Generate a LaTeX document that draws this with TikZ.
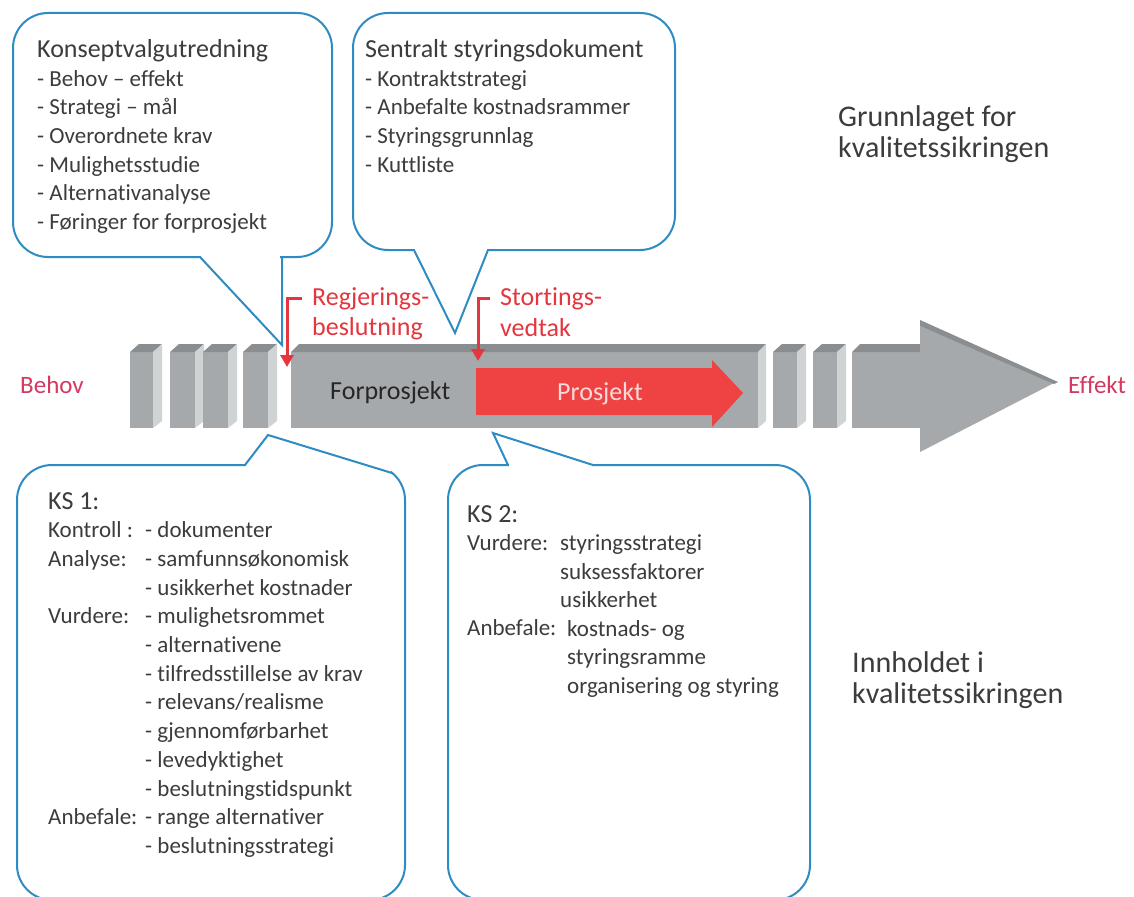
\documentclass[tikz,border=0pt]{standalone}
\usepackage{fontspec}
\setmainfont{Carlito}[Ligatures={TeX,NoCommon}]
\usetikzlibrary{arrows.meta}
\definecolor{bubbleline}{HTML}{2F8CC2}
\definecolor{textgray}{HTML}{3C3C3C}
\definecolor{barfront}{HTML}{A6A9AB}
\definecolor{bartop}{HTML}{8B8E90}
\definecolor{barside}{HTML}{D0D3D4}
\definecolor{projred}{HTML}{EF4242}
\definecolor{decred}{HTML}{E4363E}
\definecolor{endred}{HTML}{D5395F}
\definecolor{projtext}{HTML}{F9D9D9}
\begin{document}
\begin{tikzpicture}[x=1pt,y=-1pt,
  bubble/.style={draw=bubbleline,line width=2pt,rounded corners=35pt},
  tail/.style={draw=bubbleline,line width=2pt,line join=miter},
  heading/.style={anchor=base west,inner sep=0pt,text=textgray,font=\fontsize{26}{30}\selectfont},
  item/.style={anchor=base west,inner sep=0pt,text=textgray,font=\fontsize{23}{28}\selectfont},
  sidetext/.style={anchor=base west,inner sep=0pt,text=textgray,font=\fontsize{30}{31}\selectfont},
  decision/.style={anchor=base west,inner sep=0pt,text=decred,font=\fontsize{26}{30}\selectfont},
  decarrow/.style={draw=decred,line width=3pt,line join=miter,-{Triangle[length=12pt,width=13pt]}},
  endlabel/.style={anchor=base west,inner sep=0pt,text=endred,font=\fontsize{25}{30}\selectfont}]
\useasboundingbox[fill=white] (0,0) rectangle (1134,896);

% speech bubbles
\draw[bubble] (13,13) rectangle (332,257);
\fill[white] (201,254) rectangle (280,260);
\draw[tail] (200,257) -- (282,345) -- (282,257);
\draw[bubble] (353,13) rectangle (675,250);
\fill[white] (415,247) rectangle (487,253);
\draw[tail] (414,250) -- (455,333) -- (488,250);
\draw[bubble] (17,465) rectangle (405,900);
\fill[white] (246,461) rectangle (391,473);
\draw[tail] (245,465) -- (268,435) -- (392,473);
\draw[bubble] (448,465) rectangle (810,900);
\fill[white] (509,461) rectangle (592,469);
\draw[tail] (508,465) -- (493,433) -- (593,465);

% blocks before and after the project
\foreach \a/\b in {130/153,170/195,203/228,243/268,773/797,813/837} {
  \fill[barfront] (\a,352) rectangle (\b,428);
  \fill[bartop] (\a,352) -- (\a+9,344) -- (\b+9,344) -- (\b,352) -- cycle;
  \fill[barside] (\b,352) -- (\b+9,344) -- (\b+9,421) -- (\b,428) -- cycle;
}
\fill[barfront] (291,352) rectangle (758,428); % main bar
\fill[bartop] (291,352) -- (299,344) -- (766,344) -- (758,352) -- cycle;
\fill[barside] (758,352) -- (766,344) -- (766,421) -- (758,428) -- cycle;
\fill[barfront] (852,352) rectangle (921,428); % big arrow
\fill[bartop] (852,352) -- (860,344) -- (921,344) -- (921,352) -- cycle;
\fill[barfront] (920,326) -- (1054,383) -- (920,452) -- cycle;
\fill[bartop] (920,320) -- (1058,382) -- (1054,384) -- (920,326) -- cycle;
\fill[projred] (476,368) -- (712,368) -- (712,360) -- (743,393)
  -- (712,427) -- (712,415) -- (476,415) -- cycle;

\node[anchor=base west,inner sep=0pt,text=black!85,font=\fontsize{26}{30}\selectfont] (forpro) at (330,399) {Forprosjekt};
\node[anchor=base west,inner sep=0pt,text=projtext,font=\fontsize{26}{30}\selectfont] (pro) at (557,400) {Prosjekt};
\node[endlabel] (behov) at (20,393) {Behov};
\node[endlabel] (effekt) at (1068,393) {Effekt};

% decisions
\node[decision] (reg1) at (312,305) {Regjerings-};
\node[decision] (reg2) at (312,335) {beslutning};
\node[decision] (sto1) at (500,305) {Stortings-};
\node[decision] (sto2) at (500,336) {vedtak};
\coordinate (regfrom) at (302,298);
\coordinate (regto) at (287,367);
\coordinate (stofrom) at (490,298);
\coordinate (stoto) at (478,361);
\draw[decarrow] (regfrom) -| (regto);
\draw[decarrow] (stofrom) -| (stoto);

% bubble texts
\node[heading] (kvu) at (37,58) {Konseptvalgutredning};
\foreach \t [count=\i] in {- Behov -- effekt, - Strategi -- mål, - Overordnete krav,
  - Mulighetsstudie, - Alternativanalyse, - Føringer for forprosjekt}
  \node[item] (kvu\i) at (37,{58+28.5*\i}) {\t};
\node[heading] (sd) at (365,58) {Sentralt styringsdokument};
\foreach \t [count=\i] in {- Kontraktstrategi, - Anbefalte kostnadsrammer,
  - Styringsgrunnlag, - Kuttliste}
  \node[item] (sd\i) at (365,{58+28.5*\i}) {\t};

\node[heading] (ks1) at (48,509) {KS 1:};
\foreach \t/\r in {Kontroll :/1, Analyse:/2, Vurdere:/4, Anbefale:/11}
  \node[item] (kslab\r) at (48,{509+28.7*\r}) {\t};
\foreach \t [count=\i] in {- dokumenter, - samfunnsøkonomisk, - usikkerhet kostnader,
  - mulighetsrommet, - alternativene, - tilfredsstillelse av krav, - relevans/realisme,
  - gjennomførbarhet, - levedyktighet, - beslutningstidspunkt, - range alternativer,
  - beslutningsstrategi}
  \node[item] (ksitem\i) at (145,{509+28.7*\i}) {\t};

\node[heading] (ks2) at (467,522) {KS 2:};
\node[item] (ks2lab1) at (467,550.5) {Vurdere:};
\node[item] (ks2lab4) at (467,635.5) {Anbefale:};
\foreach \t/\x [count=\i] in {styringsstrategi/560, suksessfaktorer/560, usikkerhet/560,
  kostnads- og/567, styringsramme/567, organisering og styring/567}
  \node[item] (ks2item\i) at (\x,{522+28.5*\i}) {\t};

% right-hand captions
\node[sidetext] (grunn1) at (838,127) {Grunnlaget for};
\node[sidetext] (grunn2) at (838,158) {kvalitetssikringen};
\node[sidetext] (innh1) at (852,672) {Innholdet i};
\node[sidetext] (innh2) at (852,703) {kvalitetssikringen};
\end{tikzpicture}
\end{document}
